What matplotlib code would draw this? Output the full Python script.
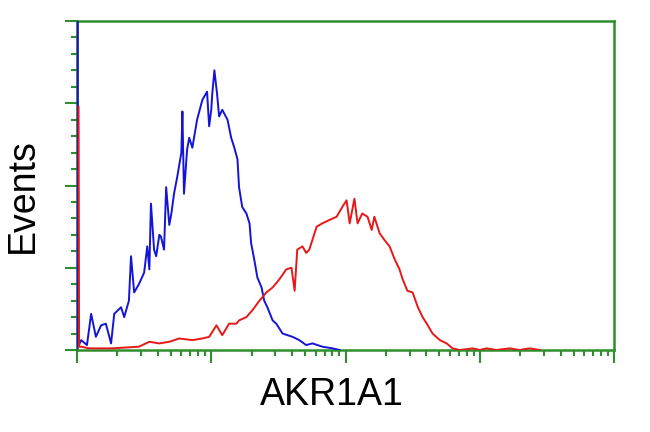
import numpy as np
import matplotlib
matplotlib.use("Agg")
import matplotlib.pyplot as plt
from matplotlib.ticker import LogLocator, MultipleLocator, NullFormatter

# channel numbers (1024 channels over 4 log decades) and event counts
blue_ch = [1, 2, 8, 19, 27, 36, 46, 55, 65, 71, 84, 90, 99, 103, 109, 118, 128, 134, 138,
           141, 147, 151, 157, 160, 166, 170, 176, 180, 185, 191, 199, 201, 204, 210, 214,
           220, 229, 239, 248, 252, 256, 258, 262, 267, 271, 277, 287, 294, 300, 306, 309,
           315, 323, 329, 332, 338, 344, 352, 357, 363, 373, 380, 392, 411, 424, 437, 449,
           468, 487, 501]
blue_counts = [240, 2, 6, 3, 22, 8, 15, 16, 4, 22, 26, 20, 30, 57, 35, 40, 47, 63, 49,
               89, 61, 57, 70, 69, 61, 99, 76, 83, 95, 105, 120, 145, 95, 122, 129,
               123, 140, 152, 157, 136, 146, 156, 170, 156, 142, 146, 140, 129, 123, 116, 99,
               87, 83, 77, 65, 55, 44, 38, 30, 26, 18, 16, 10, 8, 6, 3, 4,
               2, 1, 0]

red_ch = [3, 4, 8, 23, 36, 67, 118, 138, 157, 176, 195, 220, 239, 252, 266, 277, 290, 304,
          309, 323, 334, 348, 361, 373, 386, 399, 409, 415, 420, 430, 437, 443, 457, 468,
          481, 495, 506, 514, 520, 529, 535, 544, 554, 562, 567, 577, 586, 596, 606, 615,
          621, 630, 640, 650, 659, 667, 678, 692, 705, 716, 730, 755, 768, 781, 800, 825,
          844, 863, 883]
red_counts = [148, 2, 2, 1, 1, 1, 2, 5, 4, 5, 7, 6, 7, 8, 15, 9, 16, 16,
              18, 20, 24, 30, 35, 38, 43, 49, 50, 36, 61, 63, 59, 61, 75, 77,
              79, 81, 87, 91, 77, 92, 77, 83, 81, 73, 81, 71, 67, 63, 55, 49,
              43, 36, 35, 26, 20, 16, 10, 6, 4, 1, 0, 1, 0, 1, 0, 1,
              0, 1, 0]

green = "#2f8f2f"

fig = plt.figure(figsize=(6.5, 4.32), dpi=100)
ax = fig.add_axes([77 / 650, 82 / 432, 537 / 650, 329 / 432])

blue_x = 10 ** (np.array(blue_ch) / 256)
red_x = 10 ** (np.array(red_ch) / 256)
ax.plot(blue_x, blue_counts, color="#1414d8", lw=1.4, zorder=3)
ax.plot(red_x, red_counts, color="#e81818", lw=1.4, zorder=3)

ax.set_xscale("log")
ax.set_xlim(1, 1e4)
ax.set_ylim(0, 200)

ax.xaxis.set_major_locator(LogLocator(base=10, numticks=10))
ax.xaxis.set_minor_locator(LogLocator(base=10, subs=np.arange(2, 10), numticks=20))
ax.yaxis.set_major_locator(MultipleLocator(50))
ax.yaxis.set_minor_locator(MultipleLocator(10))
ax.xaxis.set_major_formatter(NullFormatter())
ax.xaxis.set_minor_formatter(NullFormatter())
ax.yaxis.set_major_formatter(NullFormatter())

ax.tick_params(which="major", length=9, width=1.5, color=green, direction="out")
ax.tick_params(which="minor", length=4, width=1.5, color=green, direction="out")
for side in ["top", "right", "bottom"]:
    ax.spines[side].set_color(green)
    ax.spines[side].set_linewidth(1.8)
ax.spines["left"].set_color("#1f4f3f")
ax.spines["left"].set_linewidth(1.8)

fig.text(23 / 650, 1 - 196 / 432, "Events", rotation=90, ha="center", va="center",
         fontsize=27, family="Liberation Sans")
fig.text(332 / 650, 1 - 395 / 432, "AKR1A1", ha="center", va="center",
         fontsize=27, family="Liberation Sans")

fig.savefig("out.png", dpi=100)
